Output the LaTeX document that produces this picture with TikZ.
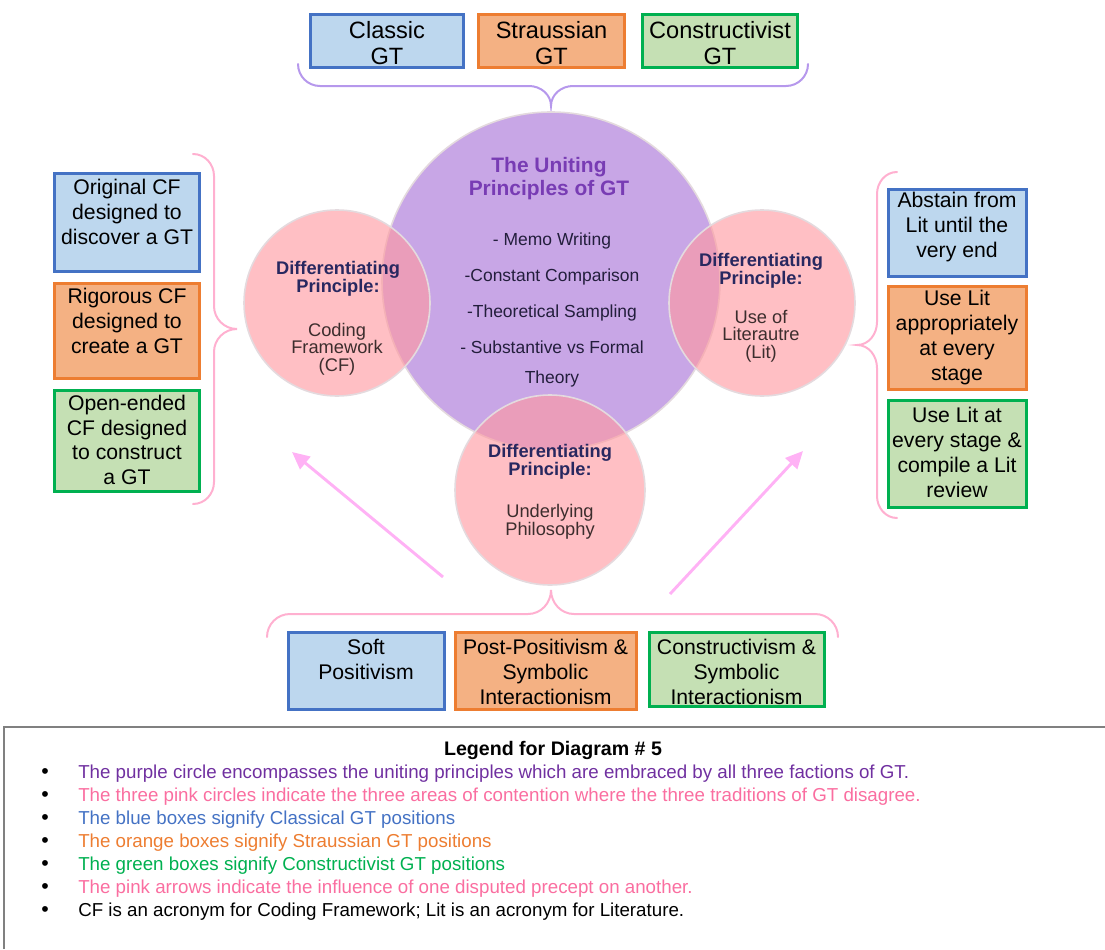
\documentclass[tikz,border=0pt]{standalone}
\usepackage{fontspec}
\setmainfont{Liberation Sans}
\usetikzlibrary{arrows.meta}
\definecolor{bfill}{RGB}{189,215,238}
\definecolor{bdraw}{RGB}{68,114,196}
\definecolor{ofill}{RGB}{244,177,131}
\definecolor{odraw}{RGB}{237,125,49}
\definecolor{gfill}{RGB}{197,224,180}
\definecolor{gdraw}{RGB}{0,176,80}
\definecolor{purplefill}{RGB}{200,166,230}
\definecolor{pinkfill}{RGB}{255,152,160}
\definecolor{ringcol}{RGB}{228,218,222}
\definecolor{bracepurple}{RGB}{182,152,236}
\definecolor{bracepink}{RGB}{255,176,208}
\definecolor{arrowpink}{RGB}{255,178,245}
\definecolor{titlepurple}{RGB}{120,60,180}
\definecolor{navy}{RGB}{40,40,96}
\definecolor{subtext}{RGB}{60,45,45}
\definecolor{listtext}{RGB}{35,30,60}
\definecolor{legpurple}{RGB}{112,48,160}
\definecolor{legpink}{RGB}{250,110,160}
\definecolor{legblue}{RGB}{68,114,196}
\definecolor{legorange}{RGB}{237,125,49}
\definecolor{leggreen}{RGB}{0,176,80}
\definecolor{legline}{RGB}{128,128,128}
\begin{document}
\begin{tikzpicture}[x=0.75pt,y=-0.75pt,
  sized/.style 2 args={minimum width=#1*0.75pt, minimum height=#2*0.75pt},
  box/.style={draw, line width=2.25pt, inner sep=0pt},
  bluebox/.style={box, fill=bfill, draw=bdraw},
  orangebox/.style={box, fill=ofill, draw=odraw},
  greenbox/.style={box, fill=gfill, draw=gdraw},
  boxtxt/.style={align=center, inner sep=0pt, font=\fontsize{15.9}{18.6}\selectfont},
  toptxt/.style={align=center, inner sep=0pt, font=\fontsize{17.7}{19.5}\selectfont},
  circ/.style={circle, inner sep=0pt, minimum size=#1*0.75pt},
  purplecirc/.style={circ=#1, fill=purplefill, draw=ringcol, line width=1.2pt},
  pinkcirc/.style={circ=#1, fill=pinkfill, fill opacity=0.62, draw=ringcol, draw opacity=1, line width=1.2pt},
  difftxt/.style={align=center, inner sep=0pt, text=navy, font=\bfseries\fontsize{13.7}{13.5}\selectfont},
  subtxt/.style={align=center, inner sep=0pt, text=subtext, font=\fontsize{13.7}{13.1}\selectfont},
  brace/.style={line width=1.5pt, line cap=round},
  pinkarrow/.style={draw=arrowpink, line width=2.2pt, -{Triangle[length=13pt,width=12pt]}},
  legtxt/.style={anchor=west, inner sep=0pt, font=\fontsize{14.05}{15}\selectfont},
  legbul/.style={inner sep=0pt, font=\fontsize{16}{16}\selectfont},
]
\useasboundingbox (0,0) rectangle (1105,949);

% ---------- top boxes ----------
\node[bluebox, sized={153}{53}] (tc) at (387,41) {};
\node[orangebox, sized={146}{53}] (ts) at (551.5,41) {};
\node[greenbox, sized={155}{53}] (tk) at (720,41) {};
\node[toptxt] (tct) at (387,43.5) {Classic\\GT};
\node[toptxt] (tst) at (551.5,43.5) {Straussian\\GT};
\node[toptxt] (tkt) at (720,43.5) {Constructivist\\GT};

% top brace
\draw[brace, draw=bracepurple] (298,64) to[out=-90,in=180] (320,86) -- (529,86)
  to[out=0,in=90] (551,106) to[out=90,in=180] (573,86) -- (786,86) to[out=0,in=-90] (808,64);

% ---------- circles ----------
\node[purplecirc=338] (pc) at (551,281) {};
\node[pinkcirc=186] (lc) at (337,303) {};
\node[pinkcirc=186] (rc) at (762,303) {};
\node[pinkcirc=190] (bc) at (550,490) {};

\node[align=center, inner sep=0pt, text=titlepurple, font=\bfseries\fontsize{15.7}{17.3}\selectfont] (pct) at (549,178.5) {The Uniting\\Principles of GT};
\node[align=center, inner sep=0pt, text=listtext, font=\fontsize{13.1}{27}\selectfont] (pcl) at (552,310)
  {- Memo Writing\\-Constant Comparison\\-Theoretical Sampling\\- Substantive vs Formal\\[-4pt]Theory};

\node[difftxt] (lcd) at (338,279) {Differentiating\\Principle:};
\node[subtxt] (lcs) at (337,349) {Coding\\Framework\\(CF)};
\node[difftxt] (rcd) at (761,271) {Differentiating\\Principle:};
\node[subtxt] (rcs) at (761,336) {Use of\\Literautre\\(Lit)};
\node[difftxt] (bcd) at (550,461.5) {Differentiating\\Principle:};
\node[subtxt] (bcs) at (550,522) {Underlying\\Philosophy};

% ---------- left boxes ----------
\node[bluebox, sized={145}{98}] (lb) at (127,222) {};
\node[orangebox, sized={145}{95}] (lo) at (127,330.5) {};
\node[greenbox, sized={145}{101}] (lg) at (127,440.5) {};
\node[boxtxt] (lbt) at (127,212) {Original CF\\designed to\\discover a GT};
\node[boxtxt] (lot) at (127,321) {Rigorous CF\\designed to\\create a GT};
\node[boxtxt] (lgt) at (127,440) {Open-ended\\CF designed\\to construct\\a GT};

\draw[brace, draw=bracepink] (193,154) to[out=0,in=90] (214,176) -- (214,306)
  to[out=-90,in=180] (237,329) to[out=180,in=90] (214,352) -- (214,482) to[out=-90,in=0] (193,504);

% ---------- right boxes ----------
\node[bluebox, sized={138}{87}] (rb) at (957,232.5) {};
\node[orangebox, sized={138}{103}] (ro) at (957,337.5) {};
\node[greenbox, sized={138}{107}] (rg) at (957,453.5) {};
\node[boxtxt] (rbt) at (957,227) {Abstain from\\Lit until the\\very end};
\node[boxtxt] (rot) at (957,337.5) {Use Lit\\appropriately\\at every\\stage};
\node[boxtxt] (rgt) at (957,452.5) {Use Lit at\\every stage \&\\compile a Lit\\review};

\draw[brace, draw=bracepink] (897,172) to[out=180,in=90] (877,194) -- (877,322)
  to[out=-90,in=0] (857,345) to[out=0,in=90] (877,368) -- (877,496) to[out=-90,in=180] (897,518);

% ---------- bottom boxes ----------
\draw[brace, draw=bracepink] (267,637) to[out=90,in=180] (290,614) -- (528,614)
  to[out=0,in=-90] (551,590) to[out=-90,in=180] (574,614) -- (815,614) to[out=0,in=90] (838,637);

\node[bluebox, sized={156}{77}] (bb) at (366,670.5) {};
\node[orangebox, sized={181}{77}] (bo) at (545.5,670.5) {};
\node[greenbox, sized={175}{74}] (bg) at (736.5,669) {};
\node[boxtxt] (bbt) at (366,659.5) {Soft\\Positivism};
\node[boxtxt] (bot) at (545.5,672) {Post-Positivism \&\\Symbolic\\Interactionism};
\node[boxtxt] (bgt) at (736.5,672) {Constructivism \&\\Symbolic\\Interactionism};

% ---------- arrows ----------
\coordinate (a1s) at (443,577);
\coordinate (a1e) at (292,452);
\coordinate (a2s) at (670,594);
\coordinate (a2e) at (803,451);
\draw[pinkarrow] (a1s) -- (a1e);
\draw[pinkarrow] (a2s) -- (a2e);

% ---------- legend ----------
\draw[draw=legline, line width=1.5pt] (4,949) -- (4,727) -- (1105,727);
\node[inner sep=0pt, font=\bfseries\fontsize{14.7}{16}\selectfont] (legt) at (553,750) {Legend for Diagram \# 5};
\foreach \yy in {774,797,820,843,866,889,912}{
  \node[legbul] at (45,\yy) {\textbullet};
}
\node[legtxt] (l1) at (78,774) {\textcolor{legpurple}{The purple circle encompasses the uniting principles which are embraced by all three factions of GT.}};
\node[legtxt] (l2) at (78,797) {\textcolor{legpink}{The three pink circles indicate the three areas of contention where the three traditions of GT disagree.}};
\node[legtxt] (l3) at (78,820) {\textcolor{legblue}{The blue boxes signify Classical GT positions}};
\node[legtxt] (l4) at (78,843) {\textcolor{legorange}{The orange boxes signify Straussian GT positions}};
\node[legtxt] (l5) at (78,866) {\textcolor{leggreen}{The green boxes signify Constructivist GT positions}};
\node[legtxt] (l6) at (78,889) {\textcolor{legpink}{The pink arrows indicate the influence of one disputed precept on another.}};
\node[legtxt] (l7) at (78,912) {CF is an acronym for Coding Framework; Lit is an acronym for Literature.};
\end{tikzpicture}
\end{document}
